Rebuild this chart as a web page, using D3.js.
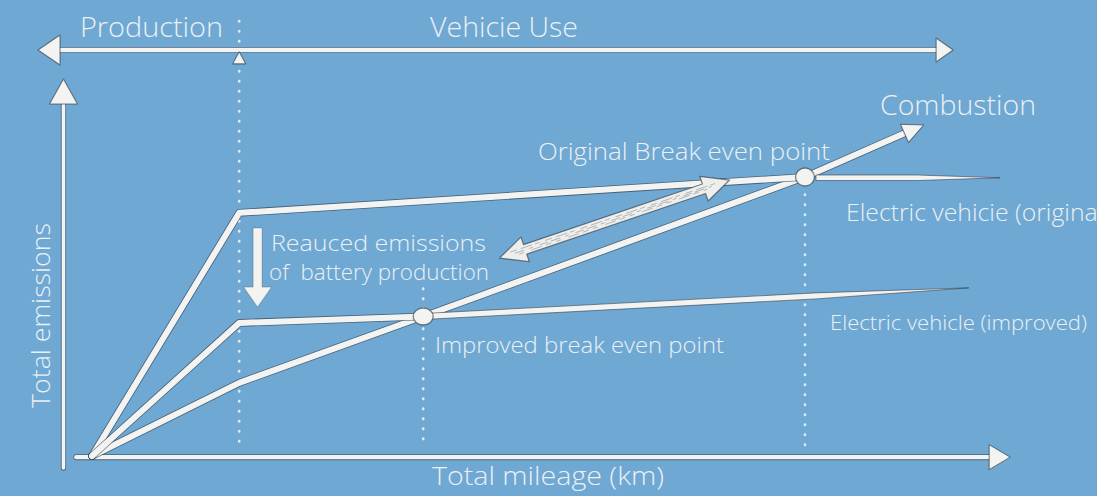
<!DOCTYPE html>
<html>
<head>
<meta charset="utf-8">
<script src="https://cdn.jsdelivr.net/npm/d3@7"></script>
<style>
  html, body { margin: 0; padding: 0; background: #6fa8d2; overflow: hidden; }
  svg { display: block; }
  text { font-family: "Open Sans", "Noto Sans", sans-serif; font-weight: 300; fill: #eaf0f4; white-space: pre; }
</style>
</head>
<body>
<svg id="chart" width="1097" height="496"></svg>
<script>
// Phases of a vehicle's life cycle
const phaseLabels = ["Production", "Vehicie Use"];
const productionEnd = 16;           // mileage at which production is finished

// Cumulative emissions vs. mileage (schematic units, 0–100)
const combustionMileage   = [0, 16, 36, 77.5, 90.4];
const combustionEmissions = [0, 19.4, 37, 74, 87.8];

const evOriginalMileage   = [0, 16, 77.5, 98.7];
const evOriginalEmissions = [0, 64.5, 74, 73.8];

const evImprovedMileage   = [0, 16, 36, 95.3];
const evImprovedEmissions = [0, 35.3, 37, 44.6];

// Break-even points (combustion curve crosses the EV curves)
const breakEvenLabels    = ["Improved break even point", "Original Break even point"];
const breakEvenMileage   = [36, 77.5];
const breakEvenEmissions = [37, 74];

const seriesLabels     = ["Combustion", "Electric vehicie (original)", "Electric vehicle (improved)"];
const axisLabels       = ["Total mileage (km)", "Total emissions"];
const annotationLines  = ["Reauced emissions", "of  battery production"];

// ---------------------------------------------------------------
const svg = d3.select("#chart");
const W = 1097, H = 496;
svg.append("rect").attr("width", W).attr("height", H).attr("fill", "#6fa8d2");

const x = d3.scaleLinear().domain([0, 100]).range([92, 1012]);
const y = d3.scaleLinear().domain([0, 100]).range([456, 79]);

const WHITE = "#f3f3f1";
const EDGE = "rgba(38,52,66,0.6)";

const zip = (xs, ys) => xs.map((v, i) => [v, ys[i]]);
const line = d3.line().x(d => x(d[0])).y(d => y(d[1]));

const gGuides = svg.append("g");
const gLines  = svg.append("g");
const gMarks  = svg.append("g");
const gText   = svg.append("g");

// chalk-like stroke: dark rim underneath a white core
function chalkPath(g, d, w) {
  g.append("path").attr("d", d).attr("fill", "none")
    .attr("stroke", EDGE).attr("stroke-width", w + 1.6)
    .attr("stroke-linejoin", "round").attr("stroke-linecap", "round");
  g.append("path").attr("d", d).attr("fill", "none")
    .attr("stroke", WHITE).attr("stroke-width", w)
    .attr("stroke-linejoin", "round").attr("stroke-linecap", "round");
}

function polygon(g, pts, fill, stroke, sw) {
  g.append("path").attr("d", "M" + pts.map(p => p.join(",")).join("L") + "Z")
    .attr("fill", fill).attr("stroke", stroke || "none").attr("stroke-width", sw || 0)
    .attr("stroke-linejoin", "round");
}

// filled arrowhead with tip at (tx,ty) pointing along angle a
function arrowHead(g, tx, ty, a, len, half) {
  const ux = Math.cos(a), uy = Math.sin(a), nx = -uy, ny = ux;
  const bx = tx - ux * len, by = ty - uy * len;
  polygon(g, [[tx, ty], [bx + nx * half, by + ny * half], [bx - nx * half, by - ny * half]], WHITE, EDGE, 1.1);
}

// segment whose width shrinks to a point at its far end
function taperSegment(g, p0, p1, w, startFrac) {
  const dx = p1[0] - p0[0], dy = p1[1] - p0[1], L = Math.hypot(dx, dy);
  const ux = dx / L, uy = dy / L, nx = -uy, ny = ux, h = w / 2;
  const m = [p0[0] + dx * startFrac, p0[1] + dy * startFrac];
  polygon(g, [
    [p0[0] + nx * h, p0[1] + ny * h], [m[0] + nx * h, m[1] + ny * h], [p1[0], p1[1]],
    [m[0] - nx * h, m[1] - ny * h], [p0[0] - nx * h, p0[1] - ny * h]
  ], WHITE, EDGE, 0.9);
}

// ---------------- dotted phase / break-even guides ----------------
const guides = [
  { m: productionEnd,       top: 115.4, bottom: 2.4 },
  { m: breakEvenMileage[0], top: 44.4,  bottom: 2.4 },
  { m: breakEvenMileage[1], top: 72.0,  bottom: 1.2 }
];
guides.forEach(gd => {
  gGuides.append("line")
    .attr("x1", x(gd.m)).attr("x2", x(gd.m))
    .attr("y1", y(gd.top)).attr("y2", y(gd.bottom))
    .attr("stroke", "#e4eaee").attr("stroke-width", 2.6)
    .attr("stroke-linecap", "round").attr("stroke-dasharray", "0.5 9.5");
});

// ---------------- axes ----------------
// vertical emissions axis
chalkPath(gLines, line([[-3.1, -3.2], [-3.1, 95]]), 3.6);
arrowHead(gLines, x(-3.1), y(100), -Math.PI / 2, 25, 14);
// horizontal mileage axis
chalkPath(gLines, line([[-1.7, -0.3], [97.5, -0.3]]), 4.4);
arrowHead(gLines, x(99.8), y(-0.3), 0, 21, 12.5);

// life-cycle phase arrow across the top
chalkPath(gLines, line([[-4, 107.7], [92, 107.7]]), 4.4);
arrowHead(gLines, x(-5.87), y(107.7), Math.PI, 22, 15);
arrowHead(gLines, x(93.6), y(107.7), 0, 17, 12);
// small marker where production ends
arrowHead(gLines, x(productionEnd), y(107.2), -Math.PI / 2, 12, 6.5);

// ---------------- emission curves ----------------
// combustion vehicle
const comb = zip(combustionMileage, combustionEmissions);
{
  const tip = comb[comb.length - 1], prev = comb[comb.length - 2];
  const a = Math.atan2(y(tip[1]) - y(prev[1]), x(tip[0]) - x(prev[0]));
  const end = [x.invert(x(tip[0]) - Math.cos(a) * 14), y.invert(y(tip[1]) - Math.sin(a) * 14)];
  chalkPath(gLines, line(comb.slice(0, -1).concat([end])), 6);
  arrowHead(gLines, x(tip[0]), y(tip[1]), a, 21, 10);
}

// electric vehicle, original battery
const evo = zip(evOriginalMileage, evOriginalEmissions);
chalkPath(gLines, line(evo.slice(0, 3)), 6);
{
  const a = evo[2], b = evo[3];
  taperSegment(gLines, [x(a[0]) + 11, y(b[1])], [x(b[0]), y(b[1])], 5.5, 0.55);
}

// electric vehicle, improved battery
const evi = zip(evImprovedMileage, evImprovedEmissions);
chalkPath(gLines, line(evi.slice(0, 3)), 6);
{
  const a = evi[2], b = evi[3];
  taperSegment(gLines, [x(a[0]), y(a[1])], [x(b[0]), y(b[1])], 6, 0.72);
}

// break-even markers
breakEvenMileage.forEach((m, i) => {
  gMarks.append("ellipse")
    .attr("cx", x(m)).attr("cy", y(breakEvenEmissions[i]))
    .attr("rx", i === 0 ? 10 : 9.5).attr("ry", i === 0 ? 8.5 : 9)
    .attr("fill", WHITE).attr("stroke", EDGE).attr("stroke-width", 1.3);
});

// ---------------- annotation arrows ----------------
// downward arrow: lower emissions of battery production
{
  const cx = x(18), top = y(60.5), tip = y(39.5);
  polygon(gMarks, [
    [cx - 4.5, top], [cx + 4.5, top], [cx + 4.5, tip - 20], [cx + 14, tip - 20],
    [cx, tip], [cx - 14, tip - 20], [cx - 4.5, tip - 20]
  ], WHITE, "rgba(38,52,66,0.35)", 0.8);
}

// double-headed arrow: shift of the break-even point
{
  const L = [x(44.3), y(52.5)], R = [x(69.3), y(73.2)];
  const dx = R[0] - L[0], dy = R[1] - L[1], len = Math.hypot(dx, dy);
  const ux = dx / len, uy = dy / len, nx = -uy, ny = ux;
  const hl = 27, hw = 13, sw = 5;
  const P = (p, a, b) => [p[0] + ux * a + nx * b, p[1] + uy * a + ny * b];
  polygon(gMarks, [
    L, P(L, hl, hw), P(L, hl, sw), P(R, -hl, sw), P(R, -hl, hw),
    R, P(R, -hl, -hw), P(R, -hl, -sw), P(L, hl, -sw), P(L, hl, -hw)
  ], "#eeeeec", EDGE, 1.2);
  // scribbled shading inside the shaft
  [-2.2, 0.4, 2.6].forEach((off, k) => {
    const a = P(L, 12 + k * 4, off), b = P(R, -14 - k * 5, off * 0.6);
    gMarks.append("line").attr("x1", a[0]).attr("y1", a[1]).attr("x2", b[0]).attr("y2", b[1])
      .attr("stroke", "rgba(70,80,90,0.45)").attr("stroke-width", 0.8)
      .attr("stroke-dasharray", ["7 4 12 3 5 6", "10 5 4 7 9 3", "5 8 11 4 6 5"][k]);
  });
}

// ---------------- text ----------------
function label(txt, px, py, size, len, extra) {
  const t = gText.append("text").attr("x", px).attr("y", py)
    .attr("font-size", size).text(txt);
  if (len) t.attr("textLength", len).attr("lengthAdjust", "spacingAndGlyphs");
  if (extra) extra(t);
  return t;
}

label(phaseLabels[0], 80, 37, 28, 143);
label(phaseLabels[1], 430, 37, 28, 148);
label(seriesLabels[0], 880, 115, 27, 156);
label(breakEvenLabels[1], 538, 160, 24, 292);
label(seriesLabels[1], 846, 221, 23.5, 264);
label(annotationLines[0], 271, 251, 22.5, 215);
label(annotationLines[1], 269, 280, 22.5, 220);
label(breakEvenLabels[0], 435, 353, 21.5, 289);
label(seriesLabels[2], 830, 330, 20.5, 257);
label(axisLabels[0], 432, 485, 26, 232);
label(axisLabels[1], 0, 0, 26, 185, t => t.attr("transform", "translate(50,408) rotate(-90)"));
</script>
</body>
</html>
